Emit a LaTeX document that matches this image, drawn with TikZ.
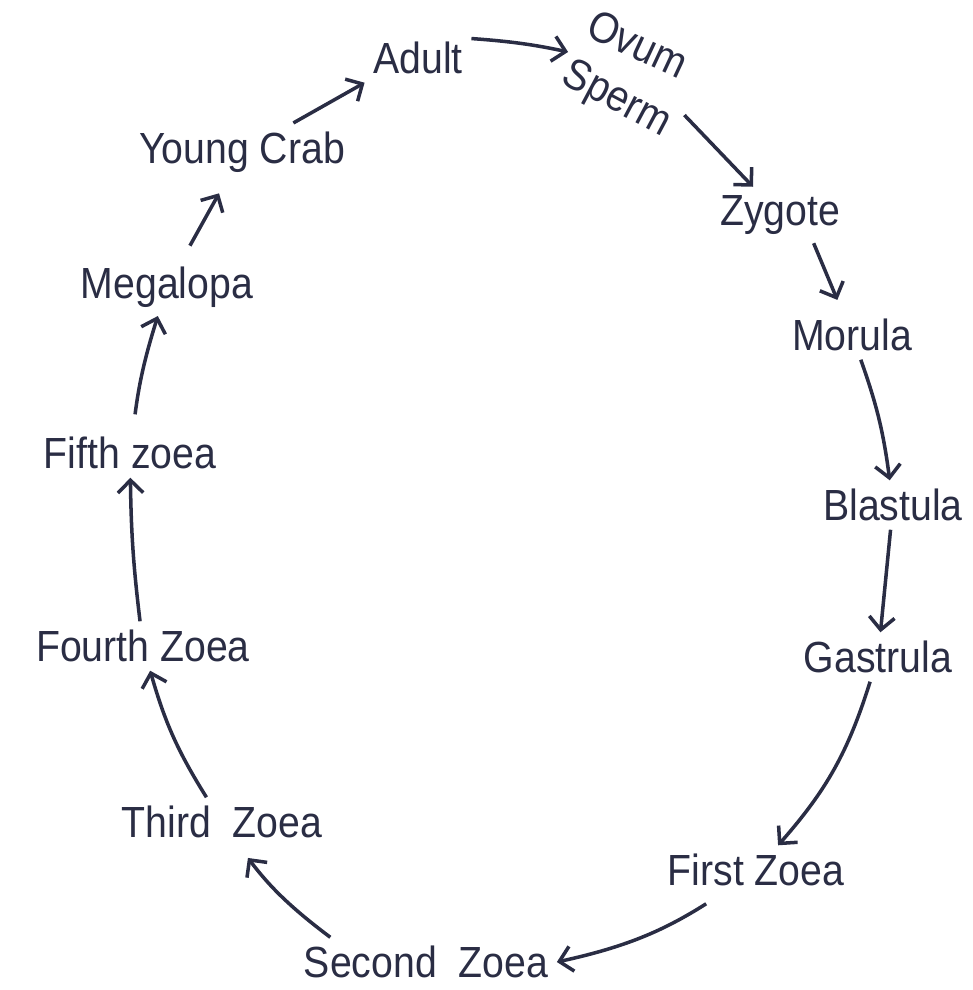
\documentclass[tikz,border=0pt]{standalone}
\usepackage{fontspec}
\setmainfont{Liberation Sans}[FakeStretch=0.9]
\usetikzlibrary{arrows.meta,positioning}
\definecolor{ink}{RGB}{42,45,68}

\begin{document}
\begin{tikzpicture}[x=0.025cm, y=-0.025cm,
        stage/.style={text=ink, font=\fontsize{31}{36}\selectfont, inner sep=6pt},
        arrow/.style={-{Straight Barb[length=9pt, width=18pt]}, line width=2.5pt, draw=ink}
    ]
        \useasboundingbox (0,0) rectangle (972,990);

        \node[stage] (adult) at (418,58) {Adult};
        \node[stage, rotate=-25, inner sep=1pt] (ovum) at (638,44) {Ovum};
        \node[stage, rotate=-28, inner sep=1pt] (sperm) at (616,100) {Sperm};
        \node[stage] (young) at (242,152) {Young Crab};
        \node[stage] (zygote) at (780,215) {Zygote};
        \node[stage] (megalopa) at (167,287) {Megalopa};
        \node[stage] (morula) at (852,335) {Morula};
        \node[stage] (fifth) at (130,453) {Fifth zoea};
        \node[stage] (blastula) at (893,505) {Blastula};
        \node[stage] (fourth) at (143,646) {Fourth Zoea};
        \node[stage] (gastrula) at (878,657) {Gastrula};
        \node[stage] (third) at (222,822) {Third~~Zoea};
        \node[stage] (first) at (756,870) {First Zoea};
        \node[stage] (second) at (426,962) {Second~~Zoea};

        \draw[arrow] (young) -- (adult.south west);
        \draw[arrow, shorten >=4pt] (adult.20) to[bend left=4] (sperm.north west);
        \draw[arrow, shorten <=6pt] (sperm.north east) -- (zygote);
        \draw[arrow, shorten >=8pt] (zygote.-40) -- (morula);
        \draw[arrow] (morula) to[bend left=6] (blastula);
        \draw[arrow] (blastula) -- (gastrula);
        \draw[arrow] (gastrula) to[bend left=12] (first);
        \draw[arrow, shorten <=12pt] (first) to[bend left=10] (second.east);
        \draw[arrow, shorten >=10pt] ([xshift=25pt]second.north west) to[bend left=8] (third);
        \draw[arrow] (third) to[bend left=8] (fourth);
        \draw[arrow] (fourth) to[bend left=3] (fifth);
        \draw[arrow, shorten <=10pt] (fifth) to[bend left=5] (megalopa);
        \draw[arrow, shorten <=10pt, shorten >=10pt] (megalopa) -- (young);
    \end{tikzpicture}
\end{document}
